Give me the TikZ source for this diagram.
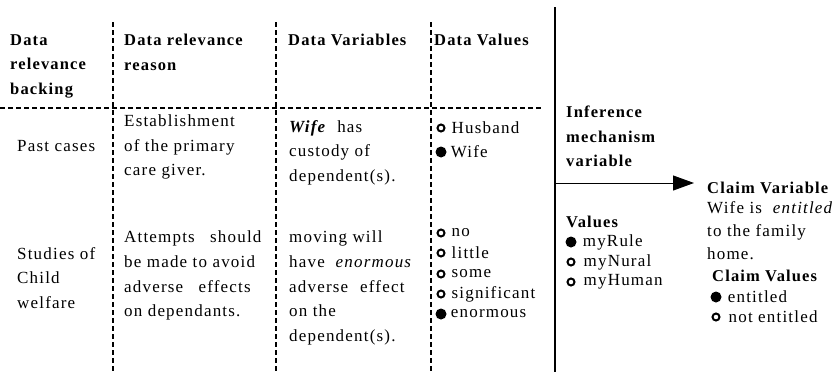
\documentclass[tikz,border=0pt]{standalone}
\usepackage{fontspec}
\setmainfont{Liberation Serif}[LetterSpace=7]
\usetikzlibrary{positioning,arrows.meta}

\tikzset{
	cell/.style={inner sep=0pt, align=left, font=\fontsize{17}{24.5}\selectfont},
	hdr/.style={cell, font=\fontsize{16.5}{24.5}\selectfont\bfseries},
	grid/.style={line width=1.3pt, dash pattern=on 5pt off 3pt},
	opt/.style={circle, draw, line width=2pt, inner sep=0pt, minimum size=7pt},
	optsel/.style={circle, fill, inner sep=0pt, minimum size=11pt},
	item/.style={cell, anchor=west}
}

\begin{document}
\begin{tikzpicture}[x=1pt, y=-1pt]
	\useasboundingbox (0,0) rectangle (835,372);
	
	% table rules
	\draw [grid] (113,22) -- (113,372);
	\draw [grid] (276,22) -- (276,372);
	\draw [grid] (431,22) -- (431,372);
	\draw [grid] (0,108) -- (542,108);
	\draw [line width=2pt] (555,7) -- (555,372);
	
	% headers
	\node [hdr, anchor=north west] (hbacking) at (10,34) {Data\\relevance\\backing};
	\node [hdr, anchor=north west] (hreason) at (124,34) {Data relevance\\reason};
	\node [hdr, anchor=north west] (hvars) at (288,34) {Data Variables};
	\node [hdr, anchor=north west] (hvals) at (434,34) {Data Values};
	
	% first row
	\node [cell, anchor=west] (past) at (17,146) {Past cases};
	\node [cell, anchor=north west] (estab) at (124,115) {Establishment\\of the primary\\care giver.};
	\node [cell, anchor=north west] (custody) at (289,120) {\textbf{\textit{Wife}}\ \ has\\custody of\\dependent(s).};
	\node [opt] (husbdot) at (441,128) {};
	\node [item, right=6pt of husbdot] (husb) {Husband};
	\node [optsel] (wifedot) at (441,152) {};
	\node [item, right=4pt of wifedot] (wife) {Wife};
	
	% second row
	\node [cell, anchor=north west] (studies) at (17,247) {Studies of\\Child\\welfare};
	\node [cell, anchor=north west] (attempts) at (124,231) {Attempts\hspace{0.9em}should\\be made to avoid\\adverse\hspace{0.9em}effects\\on dependants.};
	\node [cell, anchor=north west] (moving) at (289,231) {moving will\\have\ \ \textit{enormous}\\adverse\hspace{0.7em}effect\\on the\\dependent(s).};
	\node [opt] (nodot) at (441,233) {};
	\node [item, right=6pt of nodot] (no) {no};
	\node [opt] (littledot) at (441,253) {};
	\node [item, right=6pt of littledot] (little) {little};
	\node [opt] (somedot) at (441,274) {};
	\node [item, right=6pt of somedot] (some) {some};
	\node [opt] (signdot) at (441,294) {};
	\node [item, right=6pt of signdot] (sign) {significant};
	\node [optsel] (enormdot) at (441,314) {};
	\node [item, right=4pt of enormdot] (enorm) {enormous};
	
	% inference mechanism
	\node [hdr, anchor=north west] (infer) at (566,106) {Inference\\mechanism\\variable};
	\node [hdr, anchor=west] (hmech) at (566,222) {Values};
	\node [optsel] (ruledot) at (571,242) {};
	\node [item, right=6pt of ruledot] (rule) {myRule};
	\node [opt] (nuraldot) at (571,262) {};
	\node [item, right=8pt of nuraldot] (nural) {myNural};
	\node [opt] (humandot) at (571,282) {};
	\node [item, right=8pt of humandot] (human) {myHuman};
	
	% claim
	\node [hdr, anchor=west] (claimvar) at (707,188) {Claim Variable};
	\node [cell, anchor=north west, font=\fontsize{17}{23}\selectfont] (claim) at (707,201) {Wife is\ \ \textit{entitled}\\to the family\\home.};
	\node [hdr, anchor=west] (hclaim) at (712,276) {Claim Values};
	\node [optsel] (entdot) at (716,297) {};
	\node [item, right=6pt of entdot] (ent) {entitled};
	\node [opt] (notentdot) at (716,317) {};
	\node [item, right=8pt of notentdot] (notent) {not entitled};
	
	\coordinate (split) at (555,183);
	\draw [-{Triangle[length=21pt, width=15pt]}, line width=1pt, shorten >=13pt] (split) -- (claimvar.west |- split);
\end{tikzpicture}
\end{document}
